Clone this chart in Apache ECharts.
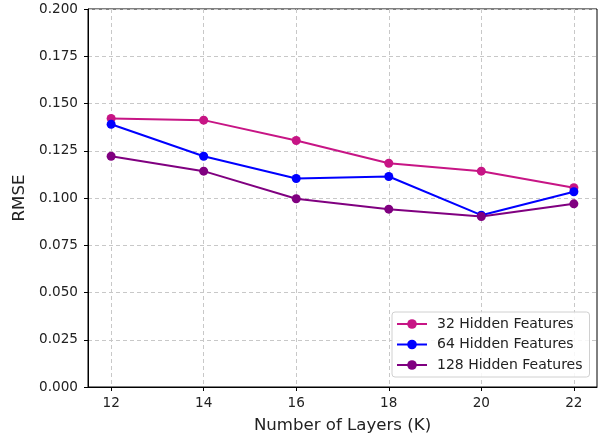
<!DOCTYPE html>
<html>
<head>
<meta charset="utf-8">
<script src="https://cdn.jsdelivr.net/npm/echarts@6/dist/echarts.min.js"></script>
<style>
  html, body { margin: 0; padding: 0; background: #fff; }
  #chart { width: 600px; height: 439px; }
</style>
</head>
<body>
<div id="chart"></div>
<script>
// Number of layers on the x axis
const layers = [12, 14, 16, 18, 20, 22];
// RMSE per hidden feature size
const rmse32 = [0.1421, 0.1412, 0.1304, 0.1184, 0.1142, 0.1054];
const rmse64 = [0.1390, 0.1221, 0.1103, 0.1114, 0.0909, 0.1033];
const rmse128 = [0.1221, 0.1142, 0.0996, 0.0941, 0.0902, 0.0969];
const seriesNames = ['32 Hidden Features', '64 Hidden Features', '128 Hidden Features'];

const FONT = 'DejaVu Sans';
const pair = (ys) => layers.map((x, i) => [x, ys[i]]);

function lineSeries(name, ys, color) {
  return {
    name, type: 'line', data: pair(ys),
    symbol: 'circle', symbolSize: 9,
    lineStyle: { color, width: 2 },
    itemStyle: { color },
    emphasis: { disabled: true },
    animation: false
  };
}

const chart = echarts.init(document.getElementById('chart'), null, { renderer: 'canvas' });
chart.setOption({
  backgroundColor: '#fff',
  animation: false,
  grid: {
    left: 88, right: 3, top: 9, bottom: 51,
    show: true, borderColor: '#000', borderWidth: 1, backgroundColor: 'transparent'
  },
  xAxis: {
    type: 'value', min: 11.5, max: 22.5,
    name: 'Number of Layers (K)', nameLocation: 'middle', nameGap: 30,
    nameTextStyle: { fontFamily: FONT, fontSize: 16.6, color: '#222' },
    axisLine: { show: true, lineStyle: { color: '#000', width: 1 } },
    axisTick: { show: true, length: 4, inside: false, customValues: layers, lineStyle: { color: '#000' } },
    axisLabel: { customValues: layers, fontFamily: FONT, fontSize: 13.6, color: '#222', margin: 9 },
    splitLine: { show: true, lineStyle: { color: '#c8c8c8', type: [4, 3], width: 1 } }
  },
  yAxis: {
    type: 'value', min: 0, max: 0.2, interval: 0.025,
    name: 'RMSE', nameLocation: 'middle', nameGap: 58, nameRotate: 90,
    nameTextStyle: { fontFamily: FONT, fontSize: 16.6, color: '#222' },
    axisLine: { show: true, lineStyle: { color: '#000', width: 1 } },
    axisTick: { show: true, length: 4, inside: false, lineStyle: { color: '#000' } },
    axisLabel: { fontFamily: FONT, fontSize: 13.6, color: '#222', margin: 10,
      formatter: (v) => v.toFixed(3) },
    splitLine: { show: true, lineStyle: { color: '#c8c8c8', type: [4, 3], width: 1 } }
  },
  legend: {
    data: seriesNames,
    orient: 'vertical', left: 392, top: 312,
    itemWidth: 30, itemHeight: 12, itemGap: 6.5,
    padding: [5, 7, 5, 4],
    backgroundColor: 'rgba(255,255,255,0.85)',
    borderColor: '#d0d0d0', borderWidth: 1, borderRadius: 3,
    textStyle: { fontFamily: FONT, fontSize: 14, color: '#222', padding: [0, 0, 0, 5] },
    selectedMode: false
  },
  series: [
    lineSeries(seriesNames[0], rmse32, '#c71585'),
    lineSeries(seriesNames[1], rmse64, '#0000ff'),
    lineSeries(seriesNames[2], rmse128, '#800080')
  ]
});
</script>
</body>
</html>
